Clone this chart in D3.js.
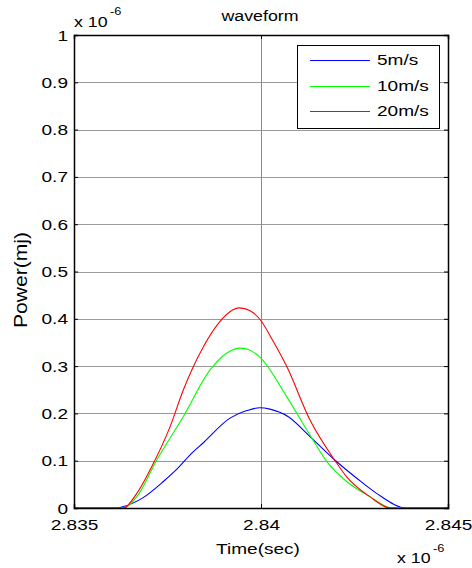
<!DOCTYPE html>
<html><head><meta charset="utf-8">
<script src="https://cdn.jsdelivr.net/npm/d3@7"></script>
<style>
body{margin:0;background:#fff}
text{font-family:"Liberation Sans",Arial,sans-serif;fill:#000}
</style>
</head><body>
<svg id="c" width="472" height="568"></svg>
<script>
// ---- data (time in units of 1e-6 s, power in units of 1e-6 mJ) ----
const seriesNames = ["5m/s", "10m/s", "20m/s"];
const seriesColors = ["#0000ff", "#00ff00", "#ff0000"];

const time5  = [2.835, 2.83614, 2.83632, 2.83685, 2.83739, 2.83775, 2.83810, 2.83846, 2.83917, 2.83962, 2.83997, 2.84024, 2.84073, 2.84131, 2.84198, 2.84256, 2.84309, 2.84390, 2.845];
const power5 = [0,     0,       0.003,   0.022,   0.056,   0.082,   0.112,   0.138,   0.190,   0.206,   0.212,   0.209,   0.193,   0.151,   0.101,   0.063,   0.031,   0,       0];

const time10  = [2.835, 2.83632, 2.83668, 2.83721, 2.83792, 2.83864, 2.83908, 2.83944, 2.83962, 2.83997, 2.84069, 2.84131, 2.84176, 2.84229, 2.84291, 2.84349, 2.845];
const power10 = [0,     0,       0.024,   0.101,   0.193,   0.292,   0.327,   0.338,   0.336,   0.319,   0.235,   0.154,   0.098,   0.056,   0.024,   0,       0];

const time20  = [2.835, 2.83632, 2.83668, 2.83703, 2.83757, 2.83792, 2.83846, 2.83890, 2.83917, 2.83942, 2.83971, 2.83997, 2.84033, 2.84069, 2.84131, 2.84198, 2.84229, 2.84291, 2.84345, 2.845];
const power20 = [0,     0,       0.031,   0.080,   0.172,   0.249,   0.341,   0.394,   0.415,   0.423,   0.417,   0.399,   0.352,   0.299,   0.186,   0.100,   0.066,   0.024,   0,       0];

const xTicks = [2.835, 2.84, 2.845];
const xTickLabels = ["2.835", "2.84", "2.845"];
const yTicks = [0, 0.1, 0.2, 0.3, 0.4, 0.5, 0.6, 0.7, 0.8, 0.9, 1];
const yTickLabels = ["0", "0.1", "0.2", "0.3", "0.4", "0.5", "0.6", "0.7", "0.8", "0.9", "1"];

const titleText = "waveform";
const xLabel = "Time(sec)";
const yLabel = "Power(mj)";

// ---- layout ----
const L = 74, R = 448, T = 35, B = 508;
const SX = 1.27; // horizontal text stretch of the reference

const svg = d3.select("#c");
const x = d3.scaleLinear().domain([2.835, 2.845]).range([L, R]);
const y = d3.scaleLinear().domain([0, 1]).range([B, T]);

function txt(px, py, s, size, anchor, sx) {
  return svg.append("text")
    .attr("transform", `translate(${px},${py}) scale(${sx || SX},1)`)
    .attr("text-anchor", anchor || "start")
    .attr("font-size", size)
    .text(s);
}

// grid
const grid = svg.append("g");
grid.selectAll("line.h").data(yTicks.slice(1, -1)).join("line")
  .attr("x1", L).attr("x2", R)
  .attr("y1", d => Math.round(y(d)) + 0.5).attr("y2", d => Math.round(y(d)) + 0.5)
  .attr("stroke", "#9a9a9a").attr("stroke-width", 1);
grid.selectAll("line.v").data(xTicks.slice(1, -1)).join("line")
  .attr("y1", T).attr("y2", B)
  .attr("x1", d => Math.round(x(d)) + 0.5).attr("x2", d => Math.round(x(d)) + 0.5)
  .attr("stroke", "#8a8a8a").attr("stroke-width", 1);

// lines
svg.append("clipPath").attr("id", "clip").append("rect")
  .attr("x", L).attr("y", T).attr("width", R - L).attr("height", B - T);
const series = [
  {t: time5, p: power5},
  {t: time10, p: power10},
  {t: time20, p: power20}
];
const line = d3.line().x(d => x(d[0])).y(d => y(d[1])).curve(d3.curveMonotoneX);
const lg = svg.append("g").attr("clip-path", "url(#clip)");
series.forEach((s, i) => {
  const pts = s.t.map((t, j) => [t, s.p[j]]);
  lg.append("path").attr("d", line(pts)).attr("fill", "none")
    .attr("stroke", seriesColors[i]).attr("stroke-width", 1.1);
});

// axes box + inward ticks
const axL = svg.append("g").attr("transform", `translate(${L},0)`)
  .call(d3.axisLeft(y).tickValues(yTicks).tickSize(-4).tickFormat((d, i) => yTickLabels[i]));
const axR = svg.append("g").attr("transform", `translate(${R},0)`)
  .call(d3.axisRight(y).tickValues(yTicks).tickSize(-4).tickFormat(""));
const axB = svg.append("g").attr("transform", `translate(0,${B})`)
  .call(d3.axisBottom(x).tickValues(xTicks).tickSize(-4).tickFormat((d, i) => xTickLabels[i]));
const axT = svg.append("g").attr("transform", `translate(0,${T})`)
  .call(d3.axisTop(x).tickValues(xTicks).tickSize(-4).tickFormat(""));
[axL, axR, axB, axT].forEach(a => {
  a.select(".domain").attr("stroke", "#000").attr("stroke-width", 1.5);
  a.selectAll(".tick line").attr("stroke", "#000");
});
axL.selectAll(".tick text").each(function () {
  d3.select(this).attr("x", null).attr("dy", null).attr("font-size", 15)
    .attr("font-family", "Liberation Sans, Arial, sans-serif")
    .attr("text-anchor", "end")
    .attr("transform", `translate(-6,5) scale(${SX},1)`);
});
axB.selectAll(".tick text").each(function () {
  d3.select(this).attr("y", null).attr("dy", null).attr("font-size", 15)
    .attr("font-family", "Liberation Sans, Arial, sans-serif")
    .attr("text-anchor", "middle")
    .attr("transform", `translate(0,22) scale(${SX},1)`);
});

// title & labels
txt(260, 21, titleText, 14, "middle");
txt(258, 554, xLabel, 15, "middle");
svg.append("text")
  .attr("transform", `translate(27,280) rotate(-90) scale(1.32,1.1)`)
  .attr("text-anchor", "middle").attr("font-size", 16).text(yLabel);

// exponent labels
txt(74, 27, "x 10", 14, "start");
txt(110, 15, "-6", 10, "start");
txt(397, 563, "x 10", 14, "start");
txt(433, 552, "-6", 10, "start");

// legend
const legX = 297, legY = 45, legW = 142, legH = 83;
svg.append("rect").attr("x", legX + 0.5).attr("y", legY + 0.5)
  .attr("width", legW).attr("height", legH)
  .attr("fill", "#fff").attr("stroke", "#000").attr("stroke-width", 1);
const rowY = [60, 86, 111];
seriesNames.forEach((n, i) => {
  svg.append("rect").attr("x", 310).attr("y", rowY[i])
    .attr("width", 60).attr("height", 1)
    .attr("fill", seriesColors[i]);
  txt(377, rowY[i] + 5, n, 15, "start");
});
</script>
</body></html>
